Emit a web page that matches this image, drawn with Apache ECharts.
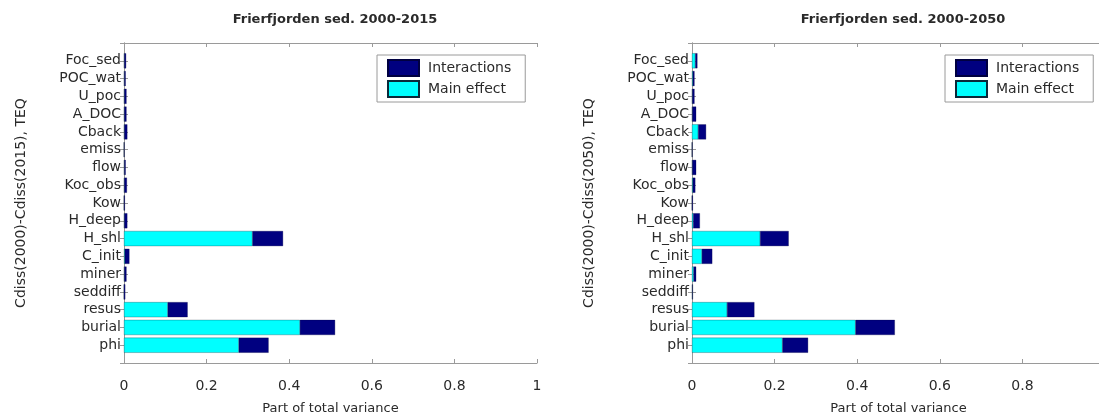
<!DOCTYPE html>
<html lang="en">
<head>
    <meta http-equiv="Content-Type" content="text/html; charset=UTF-8">
    <title>Frierfjorden sed.</title>
    <script type="text/javascript" src="https://cdn.jsdelivr.net/npm/echarts@6/dist/echarts.min.js"></script>
</head>
<body style="margin:0;width:1099px;height:416px;background:#fff">
<div id="main" style="width:1099px;height:416px"></div>
<script type="text/javascript">
    // parameters, listed top to bottom as in the figure
    var params = ['Foc_sed', 'POC_wat', 'U_poc', 'A_DOC', 'Cback', 'emiss', 'flow', 'Koc_obs', 'Kow',
                  'H_deep', 'H_shl', 'C_init', 'miner', 'seddiff', 'resus', 'burial', 'phi'];

    // 2000-2015
    var main2015 = [0.001, 0.001, 0.001, 0.001, 0.001, 0, 0.001, 0.001, 0, 0.001, 0.311, 0.002, 0.001, 0, 0.106, 0.426, 0.278];
    var inter2015 = [0.004, 0.003, 0.005, 0.005, 0.007, 0.001, 0.003, 0.006, 0.002, 0.007, 0.074, 0.011, 0.005, 0.003, 0.048, 0.085, 0.072];

    // 2000-2050
    var main2050 = [0.008, 0.002, 0.001, 0.001, 0.015, 0, 0.001, 0.002, 0, 0.003, 0.165, 0.024, 0.004, 0.001, 0.085, 0.396, 0.219];
    var inter2050 = [0.005, 0.004, 0.005, 0.009, 0.019, 0.001, 0.009, 0.006, 0.002, 0.016, 0.069, 0.025, 0.006, 0.001, 0.066, 0.095, 0.062];

    var titles = ['Frierfjorden sed. 2000-2015', 'Frierfjorden sed. 2000-2050'];
    var yNames = ['Cdiss(2000)-Cdiss(2015), TEQ', 'Cdiss(2000)-Cdiss(2050), TEQ'];

    var FONT = 'DejaVu Sans';
    var TXT = '#2a2a2a';
    var FRAME = '#9a9a9a';

    // matlab style y limits 0..18: pad the category list with an empty slot at each end
    var yCats = [''].concat(params.slice().reverse()).concat(['']);
    function pad(arr) {
        return ['-'].concat(arr.slice().reverse()).concat(['-']);
    }

    var myChart = echarts.init(document.getElementById('main'), null, {renderer: 'canvas'});

    var gridLeft = [124, 692];
    var gridRight = [1099 - 537, -6];   // right panel runs past the picture edge
    var grids = [], xAxes = [], yAxes = [], series = [], legends = [], titleOpts = [];

    for (var i = 0; i < 2; i++) {
        grids.push({
            left: gridLeft[i], right: gridRight[i], top: 43, bottom: 416 - 363,
            containLabel: false, outerBoundsMode: 'none'
        });

        var tickCommon = {show: true, inside: true, length: 4, lineStyle: {color: FRAME}};
        xAxes.push({
            gridIndex: i, type: 'value', min: 0, max: 1, interval: 0.2, position: 'bottom',
            axisLine: {show: true, lineStyle: {color: FRAME}},
            axisTick: tickCommon,
            splitLine: {show: false},
            axisLabel: {color: TXT, fontFamily: FONT, fontSize: 14, margin: 16},
            name: 'Part of total variance', nameLocation: 'middle', nameGap: 39,
            nameTextStyle: {color: TXT, fontFamily: FONT, fontSize: 13}
        });
        xAxes.push({
            gridIndex: i, type: 'value', min: 0, max: 1, interval: 0.2, position: 'top',
            axisLine: {show: true, lineStyle: {color: FRAME}},
            axisTick: tickCommon, axisLabel: {show: false}, splitLine: {show: false}
        });
        yAxes.push({
            gridIndex: i, type: 'category', data: yCats, boundaryGap: false, position: 'left',
            axisLine: {show: true, lineStyle: {color: FRAME}},
            axisTick: {show: true, inside: true, length: 4, lineStyle: {color: FRAME}},
            axisLabel: {color: TXT, fontFamily: FONT, fontSize: 14, margin: 3, interval: 0},
            name: yNames[i], nameLocation: 'middle', nameGap: 96,
            nameTextStyle: {color: TXT, fontFamily: FONT, fontSize: 14}
        });
        yAxes.push({
            gridIndex: i, type: 'category', data: yCats, boundaryGap: false, position: 'right',
            axisLine: {show: true, lineStyle: {color: FRAME}},
            axisTick: {show: true, inside: true, length: 4, lineStyle: {color: FRAME}},
            axisLabel: {show: false}
        });

        var mainData = i === 0 ? main2015 : main2050;
        var interData = i === 0 ? inter2015 : inter2050;

        series.push({
            name: 'Main effect', type: 'bar', stack: 's' + i,
            xAxisIndex: i * 2, yAxisIndex: i * 2,
            data: pad(mainData), barWidth: 15,
            itemStyle: {color: '#00ffff', borderColor: '#0a2a3a', borderWidth: 0.3},
            silent: true
        });
        series.push({
            name: 'Interactions', type: 'bar', stack: 's' + i,
            xAxisIndex: i * 2, yAxisIndex: i * 2,
            data: pad(interData), barWidth: 15,
            itemStyle: {color: '#000080', borderColor: '#000040', borderWidth: 0.3},
            silent: true
        });

        titleOpts.push({
            text: titles[i], left: gridLeft[i] + 206, top: 8, textAlign: 'center',
            textStyle: {color: TXT, fontFamily: FONT, fontSize: 13, fontWeight: 'bold'}
        });

        legends.push({
            data: [{name: 'Interactions', icon: 'rect'}, {name: 'Main effect', icon: 'rect'}],
            orient: 'vertical', left: gridLeft[i] + 253, top: 55,
            backgroundColor: '#fff', borderColor: FRAME, borderWidth: 1, borderRadius: 0,
            padding: [4, 14, 4, 10], itemGap: 3, itemWidth: 31, itemHeight: 16,
            selectedMode: false,
            textStyle: {color: TXT, fontFamily: FONT, fontSize: 14, padding: [0, 0, 0, 4]}
        });
    }

    myChart.setOption({
        animation: false,
        backgroundColor: '#fff',
        title: titleOpts,
        legend: legends,
        grid: grids,
        xAxis: xAxes,
        yAxis: yAxes,
        series: series
    });
</script>
</body>
</html>
